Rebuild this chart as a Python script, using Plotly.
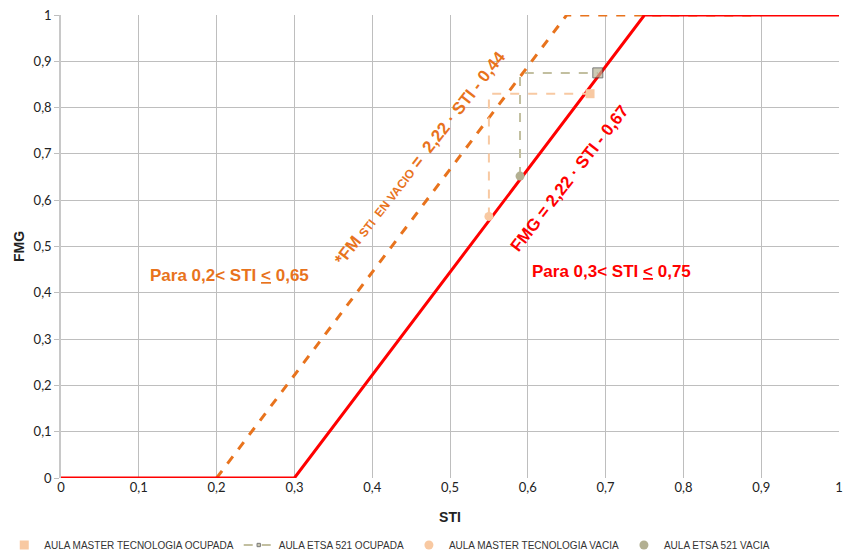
import plotly.graph_objects as go

# Model lines
fmg_x = [0, 0.3, 0.75, 1]
fmg_y = [0, 0, 1, 1]
fm_vacio_x = [0.2, 0.65, 0.9]
fm_vacio_y = [0, 1, 1]

# Measured classrooms
master_ocupada_x = [0.68]
master_ocupada_y = [0.83]
master_vacia_x = [0.55]
master_vacia_y = [0.565]
etsa_ocupada_x = [0.59, 0.59, 0.69]
etsa_ocupada_y = [0.652, 0.875, 0.875]
etsa_vacia_x = [0.59]
etsa_vacia_y = [0.652]
master_path_x = [0.55, 0.55, 0.68]
master_path_y = [0.565, 0.83, 0.83]

x_ticks = [0, 0.1, 0.2, 0.3, 0.4, 0.5, 0.6, 0.7, 0.8, 0.9, 1]
y_ticks = [0, 0.1, 0.2, 0.3, 0.4, 0.5, 0.6, 0.7, 0.8, 0.9, 1]

ORANGE = "#E8731D"
RED = "#FF0000"
PEACH = "#F8C9A2"
OLIVE = "#C2BFA0"

fig = go.Figure()

fig.add_trace(go.Scatter(x=fm_vacio_x, y=fm_vacio_y, mode="lines",
                         line=dict(color=ORANGE, width=3, dash="dash"), showlegend=False))
fig.add_trace(go.Scatter(x=fmg_x, y=fmg_y, mode="lines",
                         line=dict(color=RED, width=3), showlegend=False))
fig.add_trace(go.Scatter(x=master_path_x, y=master_path_y, mode="lines",
                         line=dict(color=PEACH, width=2, dash="dash"), showlegend=False))

fig.add_trace(go.Scatter(x=master_ocupada_x, y=master_ocupada_y, mode="markers",
                         name="AULA MASTER TECNOLOGIA OCUPADA",
                         marker=dict(symbol="square", size=9, color=PEACH)))
fig.add_trace(go.Scatter(x=etsa_ocupada_x, y=etsa_ocupada_y, mode="lines+markers",
                         name="AULA ETSA 521 OCUPADA",
                         line=dict(color=OLIVE, width=2, dash="dash"),
                         marker=dict(symbol="square", size=[0, 0, 10], color="#B9B596",
                                     line=dict(color="#404040", width=1))))
fig.add_trace(go.Scatter(x=master_vacia_x, y=master_vacia_y, mode="markers",
                         name="AULA MASTER TECNOLOGIA VACIA",
                         marker=dict(symbol="circle", size=9, color=PEACH)))
fig.add_trace(go.Scatter(x=etsa_vacia_x, y=etsa_vacia_y, mode="markers",
                         name="AULA ETSA 521 VACIA",
                         marker=dict(symbol="circle", size=9, color="#B3B092")))

fig.add_annotation(x=0.1118, y=0.438, xref="paper", yref="paper",
                   text="<b>Para 0,2< STI <u><</u> 0,65</b>", showarrow=False,
                   font=dict(color=ORANGE, size=17, family="Liberation Sans"),
                   xanchor="left", yanchor="middle")
fig.add_annotation(x=0.603, y=0.445, xref="paper", yref="paper",
                   text="<b>Para 0,3< STI <u><</u> 0,75</b>", showarrow=False,
                   font=dict(color=RED, size=17, family="Liberation Sans"),
                   xanchor="left", yanchor="middle")
fig.add_annotation(x=0.461, y=0.691, xref="x", yref="y",
                   text="<b>*FM <span style='font-size:12px'>STI  EN VACIO</span> =  2,22 · STI - 0,44</b>",
                   showarrow=False, textangle=-52,
                   font=dict(color=ORANGE, size=17, family="Liberation Sans"))
fig.add_annotation(x=0.654, y=0.646, xref="x", yref="y",
                   text="<b>FMG = 2,22 · STI - 0,67</b>",
                   showarrow=False, textangle=-52,
                   font=dict(color=RED, size=17, family="Liberation Sans"))

fig.update_layout(
    width=853, height=555,
    margin=dict(l=61, r=14, t=15, b=77, autoexpand=False),
    plot_bgcolor="white", paper_bgcolor="white",
    separators=",.",
    font=dict(family="Lato", size=13, color="#222222"),
    legend=dict(orientation="h", xref="container", yref="container",
                x=0.005, y=0.018, xanchor="left", yanchor="middle",
                font=dict(family="Liberation Sans", size=10, color="#333333"),
                itemwidth=30, tracegroupgap=0, bgcolor="rgba(0,0,0,0)"),
)
fig.update_xaxes(range=[0, 1], tickvals=x_ticks, showgrid=True, gridcolor="#BEBEBE",
                 gridwidth=1, showline=False, zeroline=False, ticks="", automargin=False,
                 title=dict(text="<b>STI</b>", font=dict(family="Liberation Sans", size=14), standoff=18))
fig.update_yaxes(range=[0, 1], tickvals=y_ticks, showgrid=True, gridcolor="#BEBEBE",
                 gridwidth=1, showline=True, linecolor="#C8C8C8", linewidth=1.5,
                 zeroline=False, ticks="outside", ticklen=5, tickcolor="#BEBEBE", automargin=False,
                 title=dict(text="<b>FMG</b>", font=dict(family="Liberation Sans", size=14), standoff=6))

fig.write_html("out.html", config={"displayModeBar": False},
               post_script="document.body.style.margin='0';document.body.style.overflow='hidden';")
